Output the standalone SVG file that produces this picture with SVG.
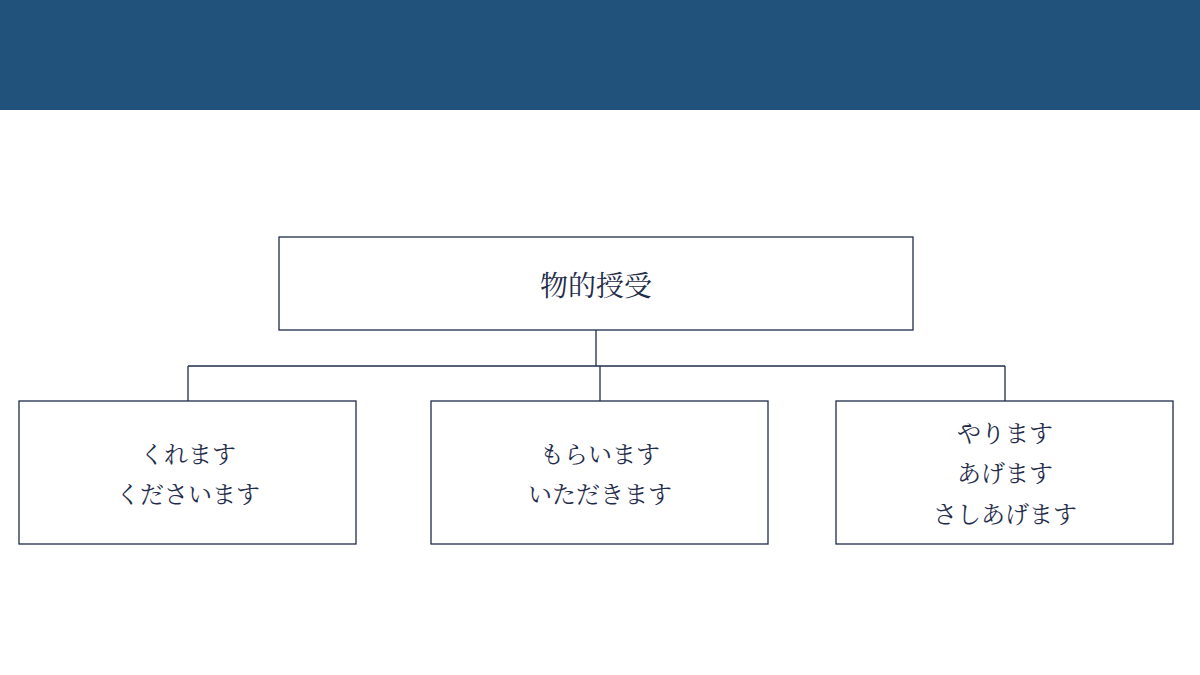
<svg xmlns="http://www.w3.org/2000/svg" width="1200" height="675" viewBox="0 0 1200 675">
<style>
.box{fill:#fff;stroke:#1f2d4a;stroke-width:1.3}
.t{font-family:"Noto Serif CJK JP","Noto Sans CJK JP",serif;fill:#1f2d4a;text-anchor:middle;dominant-baseline:central}
</style>
<rect width="1200" height="675" fill="#fff"/>
<rect id="header" x="0" y="0" width="1200" height="110" fill="#21527b"/>
<g id="connectors" fill="none" stroke="#1f2d4a" stroke-width="1.3">
<path d="M596 330V366M188 366H1005M188 366V401M600 366V401M1005 366V401"/>
</g>
<g id="root"><rect class="box" x="279" y="237" width="634" height="93"/><text class="t" x="596" y="284" font-size="28" fill="#1f3864">物的授受</text></g>
<g id="kureru"><rect class="box" x="19" y="401" width="337" height="143"/><text class="t" x="188" y="452" font-size="24">くれます</text><text class="t" x="188" y="492" font-size="24">くださいます</text></g>
<g id="morau"><rect class="box" x="431" y="401" width="337" height="143"/><text class="t" x="600" y="452" font-size="24">もらいます</text><text class="t" x="600" y="492" font-size="24">いただきます</text></g>
<g id="yaru"><rect class="box" x="836" y="401" width="337" height="143"/><text class="t" x="1005" y="431" font-size="24">やります</text><text class="t" x="1005" y="471" font-size="24">あげます</text><text class="t" x="1005" y="512" font-size="24">さしあげます</text></g>
</svg>
